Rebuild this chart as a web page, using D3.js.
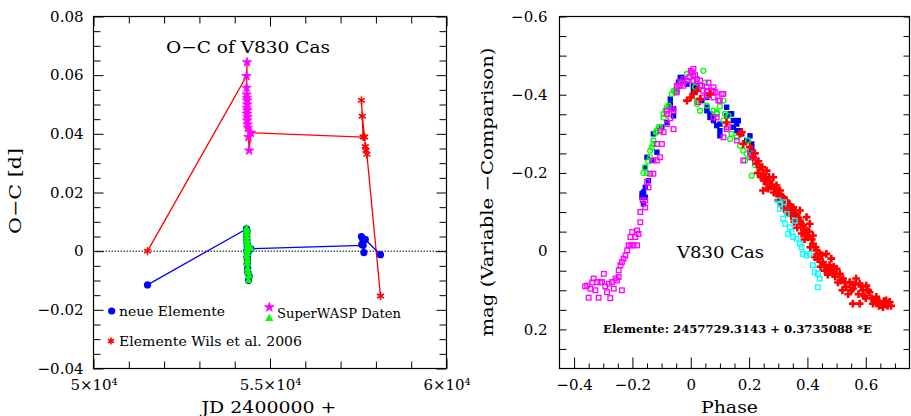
<!DOCTYPE html>
<html><head><meta charset="utf-8">
<script src="https://cdn.jsdelivr.net/npm/d3@7"></script>
<style>
html,body{margin:0;padding:0;background:#fff;}
svg{display:block;}
text{font-family:"DejaVu Serif",serif;fill:#000;}
</style></head>
<body>
<svg id="c" width="911" height="416"></svg>
<script>
// ---------- LEFT PANEL DATA (JD - 2400000, O-C in days) ----------
const ocXTicks = [50000, 55000, 60000];
const ocXTickLabels = ["5\u00d710\u2074", "5.5\u00d710\u2074", "6\u00d710\u2074"];
const ocYTicks = [-0.04, -0.02, 0, 0.02, 0.04, 0.06, 0.08];
const ocYTickLabels = ["\u22120.04", "\u22120.02", "0", "0.02", "0.04", "0.06", "0.08"];
// own observations, Wils et al. 2006 elements (in line order)
const wilsOwnJD = [51530, 57640, 57590, 57615, 57680, 57700, 57720, 57745, 58130];
const wilsOwnOC = [0.0000, 0.0389, 0.0514, 0.0460, 0.0389, 0.0357, 0.0343, 0.0330, -0.0153];
// SuperWASP timings, Wils elements
const swJD = [54334, 54350, 54338, 54342, 54346, 54352, 54356, 54344, 54360, 54348, 54364, 54354, 54368, 54372, 54390, 54410, 54460];
const swWilsOC = [0.0597, 0.0644, 0.0557, 0.0534, 0.0523, 0.0514, 0.0500, 0.0489, 0.0480, 0.0468, 0.0457, 0.0446, 0.0432, 0.0421, 0.0389, 0.0343, 0.0404];
// SuperWASP timings, new elements
const swNeueOC = [0.0076, 0.0068, 0.0059, 0.0048, 0.0036, 0.0025, 0.0014, 0.0002, -0.0009, -0.0020, -0.0032, -0.0043, -0.0060, -0.0072, -0.0100, -0.0085, 0.0008];
// own observations, new elements (in line order)
const neueOwnJD = [51530, 57640, 57590, 57620, 57600, 57660, 57700, 58130];
const neueOwnOC = [-0.0115, 0.0020, 0.0050, 0.0043, 0.0023, -0.0005, 0.0040, -0.0012];

// ---------- RIGHT PANEL DATA (phase, mag) ----------
const phXTicks = [-0.4, -0.2, 0, 0.2, 0.4, 0.6];
const phXTickLabels = ["\u22120.4", "\u22120.2", "0", "0.2", "0.4", "0.6"];
const phYTicks = [-0.6, -0.4, -0.2, 0, 0.2];
const phYTickLabels = ["\u22120.6", "\u22120.4", "\u22120.2", "0", "0.2"];
const magentaPts = [[-0.362,0.09],[-0.355,0.088],[-0.35,0.119],[-0.344,0.096],[-0.338,0.08],[-0.333,0.07],[-0.327,0.1],[-0.321,0.079],[-0.316,0.119],[-0.31,0.08],[-0.304,0.079],[-0.298,0.058],[-0.293,0.09],[-0.287,0.105],[-0.281,0.083],[-0.276,0.12],[-0.27,0.079],[-0.264,0.096],[-0.258,0.07],[-0.253,0.075],[-0.247,0.066],[-0.247,0.049],[-0.241,0.036],[-0.236,0.1],[-0.236,0.028],[-0.23,0.019],[-0.224,0.011],[-0.218,-0.002],[-0.213,-0.015],[-0.207,-0.015],[-0.207,-0.036],[-0.201,-0.015],[-0.201,-0.049],[-0.196,-0.015],[-0.19,-0.036],[-0.184,-0.015],[-0.184,-0.053],[-0.179,-0.044],[-0.173,-0.074],[-0.173,-0.1],[-0.165,-0.13],[-0.156,-0.13],[-0.156,-0.112],[-0.15,-0.177],[-0.145,-0.163],[-0.139,-0.198],[-0.128,-0.232],[-0.128,-0.198],[-0.116,-0.274],[-0.116,-0.232],[-0.105,-0.308],[-0.105,-0.24],[-0.099,-0.274],[-0.093,-0.304],[-0.082,-0.325],[-0.082,-0.351],[-0.082,-0.359],[-0.07,-0.34],[-0.065,-0.364],[-0.059,-0.312],[-0.059,-0.359],[-0.048,-0.406],[-0.048,-0.423],[-0.042,-0.423],[-0.036,-0.432],[-0.036,-0.423],[-0.025,-0.44],[-0.025,-0.423],[-0.013,-0.436],[-0.005,-0.445],[0,-0.461],[0.004,-0.457],[0.009,-0.466],[0.009,-0.449],[0.009,-0.436],[0.015,-0.45],[0.021,-0.44],[0.026,-0.381],[0.032,-0.423],[0.032,-0.436],[0.038,-0.423],[0.043,-0.41],[0.043,-0.393],[0.055,-0.397],[0.055,-0.41],[0.055,-0.419],[0.061,-0.431],[0.072,-0.41],[0.078,-0.393],[0.078,-0.41],[0.078,-0.419],[0.085,-0.406],[0.089,-0.342],[0.095,-0.385],[0.1,-0.385],[0.106,-0.402],[0.112,-0.402],[0.078,-0.342],[0.112,-0.291],[0.123,-0.312],[0.129,-0.317],[0.158,-0.283],[0.18,-0.232],[0.203,-0.253],[0.209,-0.24],[0.22,-0.23]];
const greenPts = [[-0.162,-0.2],[-0.156,-0.214],[-0.15,-0.2],[-0.145,-0.23],[-0.139,-0.24],[-0.139,-0.257],[-0.133,-0.265],[-0.128,-0.274],[-0.128,-0.283],[-0.12,-0.304],[-0.116,-0.304],[-0.116,-0.308],[-0.11,-0.317],[-0.105,-0.317],[-0.093,-0.342],[-0.093,-0.351],[-0.087,-0.359],[-0.082,-0.368],[-0.076,-0.372],[-0.065,-0.402],[-0.059,-0.41],[-0.053,-0.41],[-0.053,-0.406],[-0.048,-0.419],[-0.03,-0.43],[-0.013,-0.453],[0.009,-0.436],[0.015,-0.42],[0.021,-0.385],[0.021,-0.376],[0.032,-0.359],[0.043,-0.461],[0.049,-0.431],[0.055,-0.372],[0.06,-0.4],[0.078,-0.359],[0.089,-0.351],[0.089,-0.355],[0.1,-0.37],[0.112,-0.334],[0.112,-0.385],[0.117,-0.351],[0.123,-0.317],[0.129,-0.346],[0.135,-0.287],[0.14,-0.3],[0.158,-0.291],[0.169,-0.27],[0.18,-0.257],[0.186,-0.232],[0.192,-0.249],[0.197,-0.283],[0.203,-0.24],[0.209,-0.193],[0.214,-0.249],[0.22,-0.22]];
const bluePts = [[-0.167,-0.138],[-0.167,-0.147],[-0.162,-0.121],[-0.162,-0.151],[-0.156,-0.138],[-0.156,-0.163],[-0.156,-0.214],[-0.15,-0.24],[-0.145,-0.18],[-0.133,-0.232],[-0.128,-0.3],[-0.116,-0.253],[-0.099,-0.317],[-0.082,-0.329],[-0.07,-0.368],[-0.07,-0.376],[-0.07,-0.389],[-0.059,-0.364],[-0.059,-0.346],[-0.048,-0.41],[-0.042,-0.432],[-0.036,-0.444],[-0.03,-0.444],[-0.025,-0.436],[-0.013,-0.427],[0.009,-0.423],[0.009,-0.41],[0.015,-0.423],[0.021,-0.419],[0.038,-0.385],[0.055,-0.393],[0.055,-0.368],[0.055,-0.359],[0.066,-0.351],[0.066,-0.342],[0.072,-0.342],[0.078,-0.334],[0.089,-0.321],[0.1,-0.325],[0.1,-0.308],[0.1,-0.295],[0.123,-0.346],[0.123,-0.368],[0.135,-0.351],[0.14,-0.351],[0.146,-0.317],[0.146,-0.334],[0.158,-0.325],[0.158,-0.308],[0.163,-0.334],[0.169,-0.308],[0.175,-0.3],[0.192,-0.283],[0.203,-0.249],[0.203,-0.295],[0.209,-0.274],[0.209,-0.266],[0.209,-0.257],[0.214,-0.24]];
const redPts = [[-0.013,-0.385],[0,-0.393],[0.009,-0.402],[0.021,-0.41],[0.032,-0.389],[0.066,-0.402],[0.123,-0.329],[0.169,-0.3],[0.175,-0.304],[0.18,-0.274],[0.203,-0.266],[0.214,-0.24],[0.22,-0.25],[0.226,-0.223],[0.23,-0.2],[0.232,-0.23],[0.237,-0.214],[0.24,-0.19],[0.245,-0.215],[0.248,-0.198],[0.248,-0.155],[0.252,-0.18],[0.255,-0.185],[0.26,-0.206],[0.26,-0.172],[0.265,-0.16],[0.268,-0.19],[0.271,-0.18],[0.275,-0.165],[0.278,-0.17],[0.283,-0.189],[0.285,-0.15],[0.29,-0.16],[0.294,-0.168],[0.294,-0.147],[0.298,-0.15],[0.3,-0.13],[0.306,-0.155],[0.31,-0.12],[0.312,-0.14],[0.317,-0.138],[0.32,-0.11],[0.322,-0.13],[0.329,-0.129],[0.33,-0.1],[0.336,-0.12],[0.34,-0.117],[0.34,-0.104],[0.344,-0.1],[0.345,-0.09],[0.351,-0.108],[0.351,-0.112],[0.355,-0.075],[0.358,-0.095],[0.363,-0.091],[0.365,-0.06],[0.368,-0.085],[0.374,-0.078],[0.374,-0.104],[0.378,-0.07],[0.38,-0.045],[0.385,-0.066],[0.388,-0.055],[0.39,-0.03],[0.395,-0.04],[0.397,-0.053],[0.397,-0.087],[0.402,-0.036],[0.405,-0.05],[0.408,-0.07],[0.41,-0.01],[0.415,-0.03],[0.419,-0.019],[0.419,-0.04],[0.425,0.015],[0.428,-0.01],[0.431,-0.002],[0.435,0.02],[0.44,0.02],[0.442,0.007],[0.445,0.04],[0.45,0.01],[0.453,0.028],[0.458,0.035],[0.46,0.05],[0.465,0.007],[0.468,0.045],[0.47,0.06],[0.476,0.036],[0.48,0.05],[0.482,0.019],[0.488,0.054],[0.49,0.04],[0.495,0.065],[0.5,0.045],[0.505,0.08],[0.511,0.058],[0.515,0.075],[0.52,0.1],[0.522,0.07],[0.528,0.08],[0.533,0.092],[0.54,0.11],[0.545,0.079],[0.55,0.1],[0.556,0.096],[0.556,0.134],[0.562,0.085],[0.567,0.07],[0.575,0.11],[0.579,0.083],[0.579,0.134],[0.585,0.09],[0.59,0.1],[0.595,0.115],[0.6,0.12],[0.602,0.088],[0.608,0.1],[0.613,0.105],[0.62,0.12],[0.625,0.134],[0.63,0.125],[0.636,0.117],[0.64,0.13],[0.645,0.14],[0.647,0.13],[0.652,0.138],[0.659,0.143],[0.662,0.128],[0.665,0.135],[0.67,0.126],[0.675,0.14],[0.682,0.13],[0.687,0.14]];
const cyanPts = [[0.3,-0.13],[0.306,-0.121],[0.306,-0.108],[0.317,-0.083],[0.32,-0.125],[0.323,-0.07],[0.329,-0.095],[0.334,-0.044],[0.34,-0.061],[0.346,-0.049],[0.351,-0.036],[0.357,-0.078],[0.363,-0.032],[0.374,-0.019],[0.38,-0.01],[0.385,0.007],[0.397,0.011],[0.408,0.007],[0.419,0.036],[0.425,0.054],[0.436,0.058],[0.442,0.07],[0.436,0.092]];

// ---------- DRAW ----------
const svg = d3.select("#c");
svg.append("rect").attr("width",911).attr("height",416).attr("fill","#fff");

function styleAxis(g){
  g.select(".domain").remove();
  g.selectAll("line").attr("stroke","#000").attr("stroke-width",1);
  g.selectAll("text").attr("font-family","DejaVu Serif").attr("font-size",15).attr("fill","#000");
}
const starPath = d3.symbol().type(d3.symbolStar).size(28)();
const triPath = d3.symbol().type(d3.symbolTriangle).size(30)();
function asterisk(g, x, y, r, col){
  const p = d3.path();
  for (let a of [90, 30, 150]) {
    const t = a*Math.PI/180;
    p.moveTo(x - r*Math.cos(t), y - r*Math.sin(t));
    p.lineTo(x + r*Math.cos(t), y + r*Math.sin(t));
  }
  g.append("path").attr("d", p.toString()).attr("stroke", col).attr("stroke-width",1.6).attr("fill","none");
}

// ===== LEFT PANEL =====
const L = {x0:93.5, x1:446.5, y0:16.5, y1:368.5};
const xL = d3.scaleLinear().domain([50000,60000]).range([L.x0,L.x1]);
const yL = d3.scaleLinear().domain([-0.04,0.08]).range([L.y1,L.y0]);
const gL = svg.append("g");

const xMinorL = d3.range(51000,60000,1000).filter(v=>v!==55000);
const yMinorL = d3.range(-0.035,0.08,0.005).filter(v=>Math.abs(Math.round(v*1000)%20)>0.5);
gL.append("g").attr("transform",`translate(0,${L.y1})`).call(d3.axisBottom(xL).tickValues(xMinorL).tickSizeInner(-7).tickSizeOuter(0).tickFormat("")).call(styleAxis);
gL.append("g").attr("transform",`translate(0,${L.y0})`).call(d3.axisTop(xL).tickValues(xMinorL).tickSizeInner(-7).tickSizeOuter(0).tickFormat("")).call(styleAxis);
gL.append("g").attr("transform",`translate(${L.x0},0)`).call(d3.axisLeft(yL).tickValues(yMinorL).tickSizeInner(-7).tickSizeOuter(0).tickFormat("")).call(styleAxis);
gL.append("g").attr("transform",`translate(${L.x1},0)`).call(d3.axisRight(yL).tickValues(yMinorL).tickSizeInner(-7).tickSizeOuter(0).tickFormat("")).call(styleAxis);
gL.append("g").attr("transform",`translate(0,${L.y1})`).call(d3.axisBottom(xL).tickValues(ocXTicks).tickSizeInner(-10).tickSizeOuter(0).tickPadding(11).tickFormat((d,i)=>ocXTickLabels[i])).call(styleAxis);
gL.append("g").attr("transform",`translate(0,${L.y0})`).call(d3.axisTop(xL).tickValues(ocXTicks).tickSizeInner(-10).tickSizeOuter(0).tickFormat("")).call(styleAxis);
gL.append("g").attr("transform",`translate(${L.x0},0)`).call(d3.axisLeft(yL).tickValues(ocYTicks).tickSizeInner(-10).tickSizeOuter(0).tickPadding(10).tickFormat((d,i)=>ocYTickLabels[i])).call(styleAxis);
gL.append("g").attr("transform",`translate(${L.x1},0)`).call(d3.axisRight(yL).tickValues(ocYTicks).tickSizeInner(-10).tickSizeOuter(0).tickFormat("")).call(styleAxis);
gL.append("rect").attr("x",L.x0).attr("y",L.y0).attr("width",L.x1-L.x0).attr("height",L.y1-L.y0).attr("fill","none").attr("stroke","#000").attr("stroke-width",1.2);

gL.append("line").attr("x1",L.x0).attr("x2",L.x1).attr("y1",yL(0)).attr("y2",yL(0)).attr("stroke","#000").attr("stroke-width",1).attr("stroke-dasharray","1.5,1.5");

const line = d3.line().x(d=>xL(d[0])).y(d=>yL(d[1]));
const wilsSeq = [[wilsOwnJD[0],wilsOwnOC[0]]].concat(swJD.map((j,i)=>[j,swWilsOC[i]])).concat(wilsOwnJD.slice(1).map((j,i)=>[j,wilsOwnOC[i+1]]));
const neueSeq = [[neueOwnJD[0],neueOwnOC[0]]].concat(swJD.map((j,i)=>[j,swNeueOC[i]])).concat(neueOwnJD.slice(1).map((j,i)=>[j,neueOwnOC[i+1]]));
gL.append("path").attr("d",line(wilsSeq)).attr("fill","none").attr("stroke","#ff0000").attr("stroke-width",1.3);
gL.append("path").attr("d",line(neueSeq)).attr("fill","none").attr("stroke","#0000ff").attr("stroke-width",1.3);

wilsOwnJD.forEach((j,i)=>asterisk(gL, xL(j), yL(wilsOwnOC[i]), 4, "#ff0000"));
neueOwnJD.forEach((j,i)=>gL.append("circle").attr("cx",xL(j)).attr("cy",yL(neueOwnOC[i])).attr("r",3.6).attr("fill","#0000ff"));
swJD.forEach((j,i)=>gL.append("circle").attr("cx",xL(j)).attr("cy",yL(swNeueOC[i])).attr("r",3.6).attr("fill","#0000ff"));
swJD.forEach((j,i)=>gL.append("path").attr("d",triPath).attr("transform",`translate(${xL(j)},${yL(swNeueOC[i])})`).attr("fill","#00ff00"));
swJD.forEach((j,i)=>gL.append("path").attr("d",starPath).attr("transform",`translate(${xL(j)},${yL(swWilsOC[i])})`).attr("fill","#ff00ff").attr("stroke","#ff00ff").attr("stroke-width",0.8));

gL.append("text").attr("x",166).attr("y",53).attr("font-size",17).attr("textLength",164).attr("lengthAdjust","spacingAndGlyphs").text("O\u2212C of V830 Cas");
gL.append("text").attr("transform","translate(21,191) rotate(-90)").attr("text-anchor","middle").attr("font-size",17).attr("textLength",86).attr("lengthAdjust","spacingAndGlyphs").text("O\u2212C  [d]");
gL.append("text").attr("x",269).attr("y",412.5).attr("text-anchor","middle").attr("font-size",17).attr("textLength",135).attr("lengthAdjust","spacingAndGlyphs").text("JD 2400000 +");

gL.append("circle").attr("cx",111.7).attr("cy",311).attr("r",3.6).attr("fill","#0000ff");
gL.append("text").attr("x",119).attr("y",315.5).attr("font-size",12.5).attr("textLength",106).attr("lengthAdjust","spacingAndGlyphs").text("neue Elemente");
gL.append("path").attr("d",starPath).attr("transform","translate(269.3,307.3)").attr("fill","#ff00ff").attr("stroke","#ff00ff").attr("stroke-width",0.8);
gL.append("path").attr("d",triPath).attr("transform","translate(269.3,318.5)").attr("fill","#00ff00");
gL.append("text").attr("x",277).attr("y",317.5).attr("font-size",12.5).attr("textLength",124).attr("lengthAdjust","spacingAndGlyphs").text("SuperWASP Daten");
asterisk(gL, 111, 341, 3.5, "#ff0000");
gL.append("text").attr("x",119).attr("y",345.5).attr("font-size",12.5).attr("textLength",183).attr("lengthAdjust","spacingAndGlyphs").text("Elemente Wils et al. 2006");

// ===== RIGHT PANEL =====
const R = {x0:559.5, x1:909.5, y0:16.5, y1:368.5};
const xR = d3.scaleLinear().domain([-0.45,0.75]).range([R.x0,R.x1]);
const yR = d3.scaleLinear().domain([-0.6,0.3]).range([R.y0,R.y1]);
const gR = svg.append("g");
const xMinorR = d3.range(-0.4,0.75,0.05).map(v=>+v.toFixed(2)).filter(v=>Math.abs(Math.round(v*100)%20)>0.5);
const yMinorR = d3.range(-0.55,0.3,0.05).map(v=>+v.toFixed(2)).filter(v=>Math.abs(Math.round(v*100)%20)>0.5);
gR.append("g").attr("transform",`translate(0,${R.y1})`).call(d3.axisBottom(xR).tickValues(xMinorR).tickSizeInner(-5).tickSizeOuter(0).tickFormat("")).call(styleAxis);
gR.append("g").attr("transform",`translate(0,${R.y1})`).call(d3.axisBottom(xR).tickValues(phXTicks).tickSizeInner(-11).tickSizeOuter(0).tickPadding(11).tickFormat((d,i)=>phXTickLabels[i])).call(styleAxis);
gR.append("g").attr("transform",`translate(${R.x0},0)`).call(d3.axisLeft(yR).tickValues(yMinorR).tickSizeInner(-7).tickSizeOuter(0).tickFormat("")).call(styleAxis);
gR.append("g").attr("transform",`translate(${R.x0},0)`).call(d3.axisLeft(yR).tickValues(phYTicks).tickSizeInner(-7).tickSizeOuter(0).tickPadding(12).tickFormat((d,i)=>phYTickLabels[i])).call(styleAxis);
gR.append("g").attr("transform",`translate(${R.x1},0)`).call(d3.axisRight(yR).tickValues(yMinorR.concat(phYTicks)).tickSizeInner(-6).tickSizeOuter(0).tickFormat("")).call(styleAxis);
gR.append("rect").attr("x",R.x0).attr("y",R.y0).attr("width",R.x1-R.x0).attr("height",R.y1-R.y0).attr("fill","none").attr("stroke","#000").attr("stroke-width",1.2);

const sq = 4.6;
gR.append("g").selectAll("rect").data(bluePts).join("rect")
  .attr("x",d=>xR(d[0])-sq/2-0.4).attr("y",d=>yR(d[1])-sq/2-0.4).attr("width",sq+0.8).attr("height",sq+0.8).attr("fill","#0000ff");
gR.append("g").selectAll("circle").data(greenPts).join("circle")
  .attr("cx",d=>xR(d[0])).attr("cy",d=>yR(d[1])).attr("r",2.5).attr("fill","none").attr("stroke","#00ff00").attr("stroke-width",1.3);
gR.append("g").selectAll("rect").data(magentaPts).join("rect")
  .attr("x",d=>xR(d[0])-sq/2).attr("y",d=>yR(d[1])-sq/2).attr("width",sq).attr("height",sq).attr("fill","none").attr("stroke","#ff00ff").attr("stroke-width",1.3);
const plusPath = d3.symbol().type(d3.symbolCross).size(34)();
gR.append("g").selectAll("path").data(redPts).join("path")
  .attr("d",plusPath).attr("transform",d=>`translate(${xR(d[0])},${yR(d[1])})`).attr("fill","#ff0000");
gR.append("g").selectAll("rect").data(cyanPts).join("rect")
  .attr("x",d=>xR(d[0])-sq/2).attr("y",d=>yR(d[1])-sq/2).attr("width",sq).attr("height",sq).attr("fill","none").attr("stroke","#00ffff").attr("stroke-width",1.3);

gR.append("text").attr("x",677).attr("y",257.5).attr("font-size",16.5).attr("textLength",87).attr("lengthAdjust","spacingAndGlyphs").text("V830 Cas");
gR.append("text").attr("x",603).attr("y",332.5).attr("font-size",11).attr("font-weight","bold").attr("textLength",269).attr("lengthAdjust","spacingAndGlyphs").text("Elemente: 2457729.3143 + 0.3735088 *E");
gR.append("text").attr("x",729.5).attr("y",412.5).attr("text-anchor","middle").attr("font-size",17).attr("textLength",57).attr("lengthAdjust","spacingAndGlyphs").text("Phase");
gR.append("text").attr("transform","translate(493,192) rotate(-90)").attr("text-anchor","middle").attr("font-size",17).attr("textLength",289).attr("lengthAdjust","spacingAndGlyphs").text("mag (Variable \u2212Comparison)");
</script>
</body></html>
